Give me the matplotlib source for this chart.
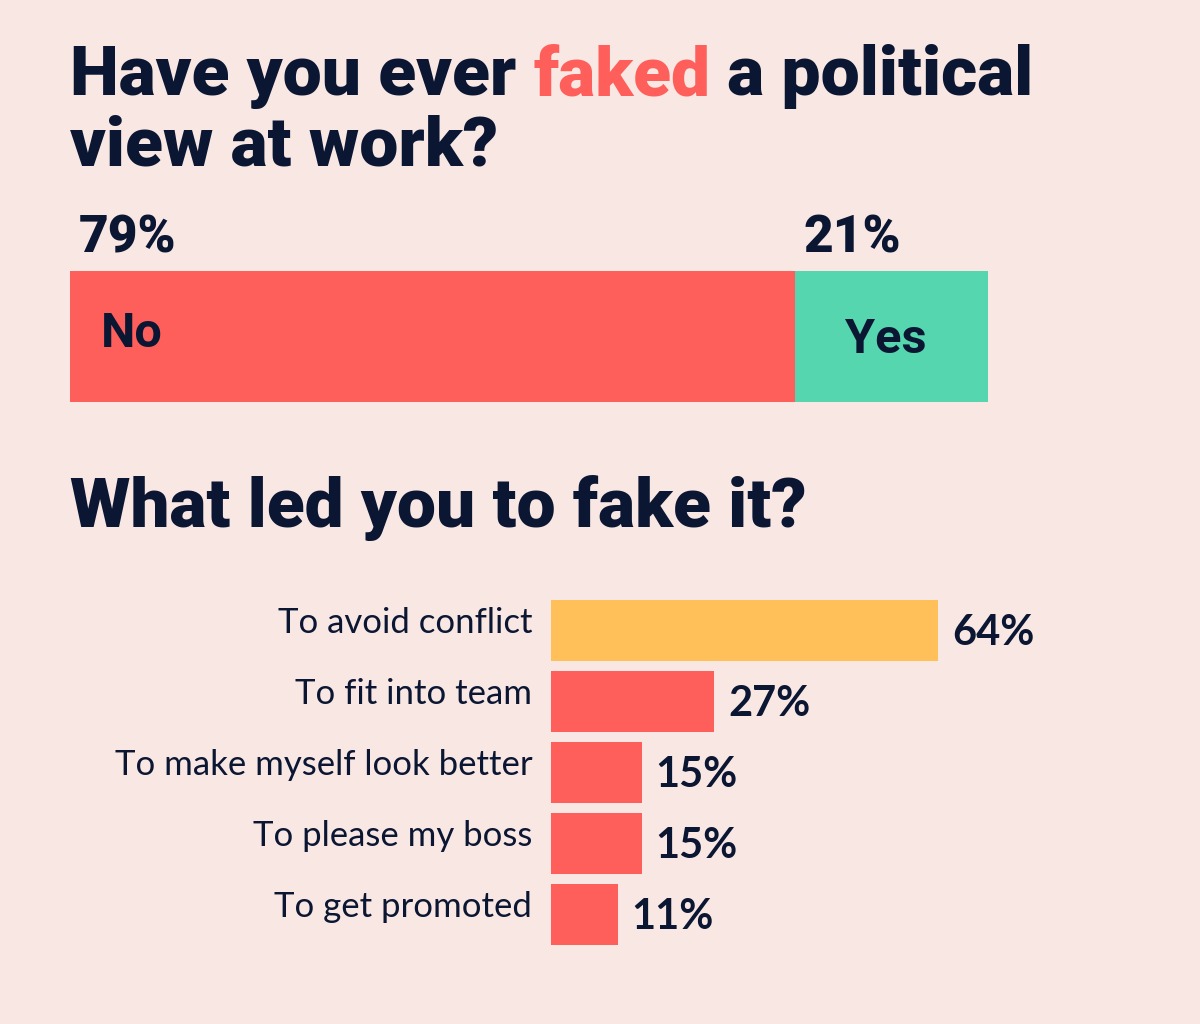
import matplotlib.pyplot as plt

# Data
top_labels = ["No", "Yes"]
top_values = [79, 21]
top_colors = ["#FF5F5A", "#55D6AE"]

reasons = ["To avoid conflict", "To fit into team", "To make myself look better",
           "To please my boss", "To get promoted"]
reason_values = [64, 27, 15, 15, 11]
reason_colors = ["#FFC05A", "#FF5F5A", "#FF5F5A", "#FF5F5A", "#FF5F5A"]

BG = "#F9E7E3"
NAVY = "#0B1633"
RED = "#FF5F5A"
TITLE_FONT = "Roboto"
LABEL_FONT = "Lato"

fig = plt.figure(figsize=(12, 10.24), dpi=100, facecolor=BG)
W, H = 1200, 1024


def fx(px):
    return px / W


def fy(py):
    return 1 - py / H


# Title with the highlighted word, placed piece by piece
renderer = fig.canvas.get_renderer()
x = fx(70)
for word, col in [("Have you ever ", NAVY), ("faked", RED), (" a political", NAVY)]:
    t = fig.text(x, fy(95), word, color=col, fontsize=50, fontweight="black",
                 family=TITLE_FONT, ha="left", va="baseline")
    bb = t.get_window_extent(renderer=renderer)
    x = bb.x1 / W
fig.text(fx(70), fy(165), "view at work?", color=NAVY, fontsize=50, fontweight="black",
         family=TITLE_FONT, ha="left", va="baseline")

# Top stacked bar
ax1 = fig.add_axes([fx(70), fy(402), fx(918), 131 / H])
ax1.set_xlim(0, sum(top_values))
ax1.set_ylim(0, 1)
left = 0
for lab, val, col in zip(top_labels, top_values, top_colors):
    ax1.barh(0.5, val, left=left, height=1, color=col)
    ax1.text(left + 0.9, 1.0 + 0.06, f"{val}%", ha="left", va="bottom",
             fontsize=37, fontweight="black", family=TITLE_FONT,
             color=NAVY, clip_on=False)
    left += val
ax1.text(3.4, 0.52, top_labels[0], ha="left", va="center", fontsize=35,
         fontweight="bold", family=TITLE_FONT, color=NAVY)
ax1.text(79 + 9.9, 0.47, top_labels[1], ha="center", va="center", fontsize=35,
         fontweight="bold", family=TITLE_FONT, color=NAVY)
ax1.axis("off")

# Second title
fig.text(fx(70), fy(527), "What led you to fake it?", color=NAVY, fontsize=50,
         fontweight="black", family=TITLE_FONT, ha="left", va="baseline")

# Horizontal bar chart of reasons
ax2 = fig.add_axes([fx(551), fy(949.5), fx(605), 355 / H])
ax2.set_facecolor(BG)
pos = list(range(len(reasons)))
ax2.barh(pos, reason_values, height=61 / 71, color=reason_colors)
ax2.set_xlim(0, 100)
ax2.set_ylim(len(reasons) - 0.5, -0.5)
for p, lab, val in zip(pos, reasons, reason_values):
    ax2.text(-3.1, p - 0.1, lab, ha="right", va="center", fontsize=25,
             family=LABEL_FONT, color=NAVY, clip_on=False)
    ax2.text(val + 2.3, p + 0.04, f"{val}%", ha="left", va="center", fontsize=30,
             fontweight="bold", family=LABEL_FONT, color=NAVY)
ax2.axis("off")

fig.savefig("out.png", dpi=100, facecolor=BG)
